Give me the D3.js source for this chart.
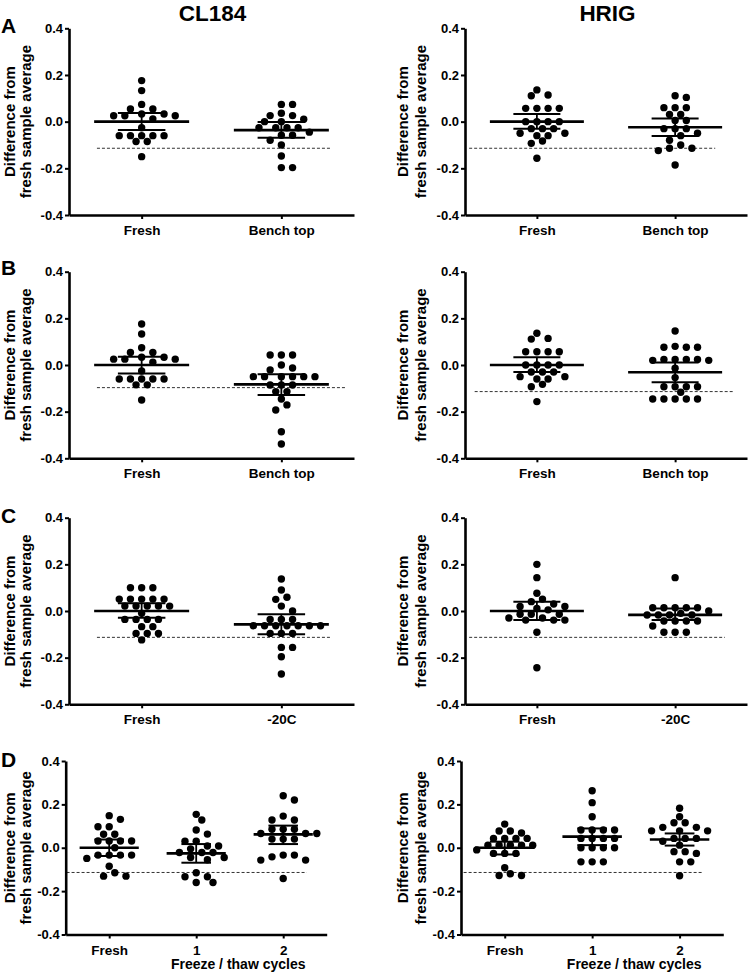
<!DOCTYPE html>
<html><head><meta charset="utf-8">
<script src="https://cdn.jsdelivr.net/npm/d3@7"></script>
<style>
body{margin:0;background:#fff}
svg{display:block}
text{font-family:"Liberation Sans",Arial,sans-serif;font-weight:bold;fill:#000}
</style>
</head><body>
<svg id="chart" width="750" height="973"></svg>
<script>
// ---------------- DATA ----------------
const columnTitles = ["CL184", "HRIG"];
const rowLetters = ["A", "B", "C", "D"];
const yTitleLines = ["Difference from", "fresh sample average"];
const xTitleCycles = "Freeze / thaw cycles";
const yTickValues = [0.4, 0.2, 0.0, -0.2, -0.4];
const yTickLabels = ["0.4", "0.2", "0.0", "-0.2", "-0.4"];
const catsBench = ["Fresh", "Bench top"];
const catsFreezer = ["Fresh", "-20C"];
const catsCycles = ["Fresh", "1", "2"];

// CL184
const cl184FreshAB = [0.176,0.133,0.074,0.054,0.054,0.033,0.033,0.025,0.025,0.025,0.012,-0.026,-0.06,-0.06,-0.06,-0.06,-0.06,-0.085,-0.085,-0.15];
const cl184BenchA = [0.074,0.074,0.036,0.026,0.026,0.0,0.0,0.01,-0.026,-0.026,-0.026,-0.026,-0.045,-0.058,-0.058,-0.08,-0.1,-0.147,-0.197,-0.197];
const cl184BenchB = [0.043,0.043,0.043,0.0,-0.013,-0.021,-0.05,-0.05,-0.05,-0.05,-0.05,-0.05,-0.086,-0.086,-0.086,-0.114,-0.114,-0.146,-0.171,-0.193,-0.286,-0.339];
const cl184FreshC = [0.1,0.1,0.1,0.051,0.051,0.051,0.051,0.051,0.021,0.021,0.021,0.021,0.021,-0.01,-0.036,-0.036,-0.036,-0.036,-0.067,-0.067,-0.096,-0.096,-0.096,-0.124];
const cl184FrozenC = [0.137,0.09,0.059,0.05,0.021,0.0,-0.036,-0.036,-0.036,-0.063,-0.063,-0.063,-0.063,-0.063,-0.063,-0.063,-0.096,-0.096,-0.096,-0.156,-0.156,-0.196,-0.27];
const cl184FreshD = [0.148,0.131,0.097,0.097,0.062,0.062,0.031,0.031,0.031,0.031,0.0,-0.034,-0.034,-0.034,-0.034,-0.049,-0.085,-0.115,-0.131,-0.131];
const cl184Cycle1D = [0.154,0.128,0.082,0.063,0.03,0.03,0.008,0.008,-0.005,-0.022,-0.022,-0.022,-0.045,-0.045,-0.055,-0.115,-0.134,-0.134,-0.16,-0.16];
const cl184Cycle2D = [0.24,0.22,0.146,0.128,0.128,0.085,0.085,0.085,0.066,0.066,0.066,0.04,0.04,0.04,-0.034,-0.034,-0.042,-0.057,-0.057,-0.142];

// HRIG
const hrigFreshAB = [0.136,0.111,0.114,0.057,0.057,0.057,0.057,0.0,0.0,0.0,0.0,-0.03,-0.03,-0.03,-0.05,-0.05,-0.06,-0.06,-0.083,-0.093,-0.157];
const hrigBenchA = [0.111,0.104,0.06,0.06,0.06,0.031,0.031,0.005,0.005,-0.03,-0.03,-0.03,-0.05,-0.06,-0.08,-0.1,-0.114,-0.114,-0.124,-0.186];
const hrigBenchB = [0.146,0.08,0.076,0.076,0.076,0.024,0.024,0.02,0.02,0.024,0.024,-0.014,-0.054,-0.093,-0.093,-0.093,-0.093,-0.117,-0.146,-0.146,-0.146,-0.146,-0.146];
const hrigFreshC = [0.2,0.143,0.076,0.051,0.04,0.03,0.019,0.019,0.011,0.005,-0.014,-0.014,-0.014,-0.03,-0.03,-0.039,-0.039,-0.039,-0.091,-0.243];
const hrigFrozenC = [0.143,0.014,0.014,0.014,0.014,0.014,0.0,-0.01,-0.017,-0.017,-0.017,-0.017,-0.043,-0.043,-0.043,-0.043,-0.064,-0.091,-0.091,-0.091];
const hrigFreshD = [0.109,0.077,0.077,0.068,0.043,0.043,0.043,0.043,0.012,0.012,0.012,0.012,0.012,-0.01,-0.026,-0.026,-0.026,-0.092,-0.12,-0.128,-0.128];
const hrigCycle1D = [0.263,0.208,0.143,0.082,0.082,0.082,0.082,0.043,0.043,0.043,0.043,0.0,0.0,0.0,0.0,-0.065,-0.065,-0.065];
const hrigCycle2D = [0.182,0.143,0.115,0.115,0.094,0.094,0.078,0.078,0.078,0.043,0.043,0.043,0.03,0.012,-0.018,-0.018,-0.026,-0.065,-0.065,-0.129];

// group summaries (mean, 95% CI)
const cl184MeanA = [0, -0.036],  cl184LoA = [-0.036, -0.069], cl184HiA = [0.037, -0.002];
const cl184MeanB = [0, -0.083],  cl184LoB = [-0.036, -0.129], cl184HiB = [0.035, -0.04];
const cl184MeanC = [0, -0.057],  cl184LoC = [-0.029, -0.1],   cl184HiC = [0.033, -0.014];
const cl184MeanD = [0, -0.026, 0.062], cl184LoD = [-0.038, -0.069, 0.017], cl184HiD = [0.038, 0.017, 0.102];
const hrigMeanA = [0, -0.024],   hrigLoA = [-0.03, -0.061],   hrigHiA = [0.033, 0.014];
const hrigMeanB = [0, -0.031],   hrigLoB = [-0.03, -0.074],   hrigHiB = [0.033, 0.011];
const hrigMeanC = [0, -0.017],   hrigLoC = [-0.039, -0.039],  hrigHiC = [0.04, 0.011];
const hrigMeanD = [0, 0.051, 0.038], hrigLoD = [-0.031, 0.012, 0.01], hrigHiD = [0.028, 0.089, 0.066];

// reference (dashed) levels
const thresholds = [-0.114, -0.114, -0.097, -0.114, -0.113, -0.113, -0.114, -0.114];

// ---------------- LAYOUT ----------------
const colGeom = [
  {x0: 69, x1: 354, xd0: 65.7, xd1: 326.7, t1: 14.5, t2: 31, title: 212.5},
  {x0: 465, x1: 747, xd0: 461, xd1: 723.3, t1: 407.5, t2: 426, title: 607.5}
];
const rowGeom = [
  {top: 28.3, bot: 215, letter: 33.3},
  {top: 271.7, bot: 458.3, letter: 275},
  {top: 517.7, bot: 704.3, letter: 523.3},
  {top: 761, bot: 934.5, letter: 766.7}
];

const panels = [
  {row:0, col:0, cats:catsBench, groups:[cl184FreshAB, cl184BenchA], mean:cl184MeanA, lo:cl184LoA, hi:cl184HiA, thr:thresholds[0], span:[-0.32,1.36]},
  {row:0, col:1, cats:catsBench, groups:[hrigFreshAB, hrigBenchA], mean:hrigMeanA, lo:hrigLoA, hi:hrigHiA, thr:thresholds[1], span:[-0.49,1.29]},
  {row:1, col:0, cats:catsBench, groups:[cl184FreshAB, cl184BenchB], mean:cl184MeanB, lo:cl184LoB, hi:cl184HiB, thr:thresholds[2], span:[-0.32,1.46]},
  {row:1, col:1, cats:catsBench, groups:[hrigFreshAB, hrigBenchB], mean:hrigMeanB, lo:hrigLoB, hi:hrigHiB, thr:thresholds[3], span:[-0.45,1.42]},
  {row:2, col:0, cats:catsFreezer, groups:[cl184FreshC, cl184FrozenC], mean:cl184MeanC, lo:cl184LoC, hi:cl184HiC, thr:thresholds[4], span:[-0.32,1.36]},
  {row:2, col:1, cats:catsFreezer, groups:[hrigFreshC, hrigFrozenC], mean:hrigMeanC, lo:hrigLoC, hi:hrigHiC, thr:thresholds[5], span:[-0.49,1.36]},
  {row:3, col:0, cats:catsCycles, groups:[cl184FreshD, cl184Cycle1D, cl184Cycle2D], mean:cl184MeanD, lo:cl184LoD, hi:cl184HiD, thr:thresholds[6], span:[-0.49,2.27]},
  {row:3, col:1, cats:catsCycles, groups:[hrigFreshD, hrigCycle1D, hrigCycle2D], mean:hrigMeanD, lo:hrigLoD, hi:hrigHiD, thr:thresholds[7], span:[-0.47,2.26]}
];

const svg = d3.select("#chart");

// column titles and row letters
columnTitles.forEach((t, i) => {
  svg.append("text").attr("x", colGeom[i].title).attr("y", 20.5)
    .attr("text-anchor", "middle").style("font-size", "22.5px").text(t);
});
rowLetters.forEach((l, i) => {
  svg.append("text").attr("x", 1).attr("y", rowGeom[i].letter)
    .style("font-size", "21px").text(l);
});

// GraphPad-like scatter layout: rows of near-equal values, spread symmetrically
function swarm(vals, y, cx, s, D) {
  const pts = vals.map(v => ({v, py: y(v)})).sort((a, b) => a.py - b.py);
  const rows = [];
  pts.forEach(p => {
    const r = rows[rows.length - 1];
    if (r && p.py - r[0].py < 2.5) r.push(p); else rows.push([p]);
  });
  const placed = [];
  rows.forEach((r, ri) => {
    const n = r.length, cands = [];
    for (let k = -24; k <= 24; k++) {
      const c = k * s / 2;
      const primary = (n % 2 === 1) ? (k % 2 === 0) : (Math.abs(k) % 2 === 1);
      cands.push({c, cost: Math.abs(c) + (primary ? 0 : 0.3 * s) + (c < 0 ? 0.01 : 0)});
    }
    cands.sort((a, b) => a.cost - b.cost);
    r.forEach(p => {
      for (const {c} of cands) {
        const ok = placed.every(q => {
          const dx = q.dx - c, dy = q.py - p.py;
          if (q.row === ri) return Math.abs(dx) >= 0.95 * s;
          return dx * dx + dy * dy >= D * D;
        });
        if (ok) { p.dx = c; p.row = ri; placed.push(p); break; }
      }
    });
  });
  return pts.map(p => ({v: p.v, py: p.py, px: cx + p.dx}));
}

panels.forEach(P => {
  const cg = colGeom[P.col], rg = rowGeom[P.row];
  const isD = P.cats.length === 3;
  const x0 = isD ? cg.xd0 : cg.x0, x1 = isD ? cg.xd1 : cg.x1;
  const x = d3.scalePoint().domain(P.cats).range([x0, x1]).padding(isD ? 0.5 : 0.52);
  const y = d3.scaleLinear().domain([-0.4, 0.4]).range([rg.bot, rg.top]);
  const step = x.step();
  const g = svg.append("g");

  // dashed reference line
  const xa = x(P.cats[0]) + P.span[0] * step, xb = x(P.cats[0]) + P.span[1] * step;
  g.append("line").attr("x1", xa).attr("x2", xb).attr("y1", y(P.thr)).attr("y2", y(P.thr))
    .attr("stroke", "#333").attr("stroke-width", 1).attr("stroke-dasharray", "3,2");

  // points
  P.groups.forEach((vals, i) => {
    const pts = swarm(vals, y, x(P.cats[i]), 11.2, 7.6);
    g.selectAll(null).data(pts).enter().append("circle")
      .attr("cx", d => d.px).attr("cy", d => d.py).attr("r", 3.7).attr("fill", "#000");
  });

  // mean and CI
  P.cats.forEach((c, i) => {
    const cx = x(c);
    const mw = 0.34 * step, cw = 0.17 * step;
    g.append("line").attr("x1", cx).attr("x2", cx).attr("y1", y(P.lo[i])).attr("y2", y(P.hi[i]))
      .attr("stroke", "#000").attr("stroke-width", 1.8);
    [P.lo[i], P.hi[i]].forEach(v => {
      g.append("line").attr("x1", cx - cw).attr("x2", cx + cw).attr("y1", y(v)).attr("y2", y(v))
        .attr("stroke", "#000").attr("stroke-width", 2);
    });
    g.append("line").attr("x1", cx - mw).attr("x2", cx + mw).attr("y1", y(P.mean[i])).attr("y2", y(P.mean[i]))
      .attr("stroke", "#000").attr("stroke-width", 2.7);
  });

  // y axis
  const ya = g.append("g").attr("transform", `translate(${x0},0)`)
    .call(d3.axisLeft(y).tickValues(yTickValues).tickSize(4).tickSizeOuter(0).tickPadding(2)
      .tickFormat((d, i) => yTickLabels[i]));
  ya.select(".domain").attr("stroke-width", 2.6);
  ya.selectAll(".tick line").attr("stroke-width", 2);
  ya.selectAll(".tick text").style("font-size", "13px").attr("fill", "#000");

  // x axis
  const xaG = g.append("g").attr("transform", `translate(0,${rg.bot})`)
    .call(d3.axisBottom(x).tickSize(4).tickSizeOuter(0));
  xaG.select(".domain").attr("stroke-width", 2.6);
  xaG.selectAll(".tick line").attr("stroke-width", 2);
  xaG.selectAll(".tick text").style("font-size", "13.5px").attr("fill", "#000")
    .attr("y", 20).attr("dy", 0);

  // y title
  const yc = (rg.top + rg.bot) / 2;
  [cg.t1, cg.t2].forEach((tx, i) => {
    svg.append("text").attr("transform", `translate(${tx},${yc}) rotate(-90)`)
      .attr("text-anchor", "middle").style("font-size", "15px").text(yTitleLines[i]);
  });

  if (isD) {
    svg.append("text").attr("x", x(P.cats[1]) + 42).attr("y", 969)
      .attr("text-anchor", "middle").style("font-size", "14px").text(xTitleCycles);
  }
});
</script>
</body></html>
